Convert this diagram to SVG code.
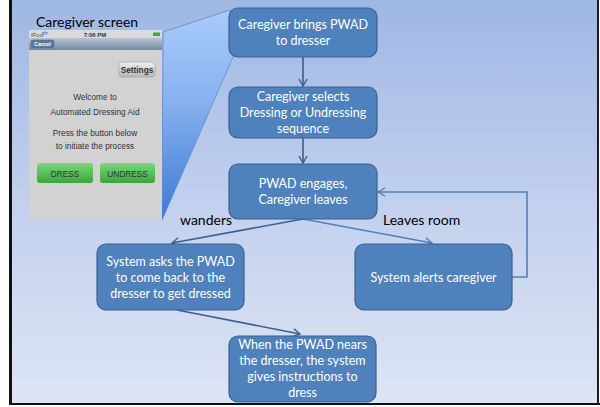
<svg xmlns="http://www.w3.org/2000/svg" width="600" height="407" viewBox="0 0 600 407">
  <defs>
    <linearGradient id="bg" x1="0" y1="0" x2="0" y2="1">
      <stop offset="0" stop-color="#9fb7e4"/>
      <stop offset="0.5" stop-color="#c2d0ee"/>
      <stop offset="1" stop-color="#dde5f4"/>
    </linearGradient>
    <linearGradient id="wedge" x1="0" y1="0" x2="0" y2="1">
      <stop offset="0" stop-color="#a9cbfa"/>
      <stop offset="0.45" stop-color="#86b0f0"/>
      <stop offset="1" stop-color="#3c78d2"/>
    </linearGradient>
    <linearGradient id="nav" x1="0" y1="0" x2="0" y2="1">
      <stop offset="0" stop-color="#b9c4d2"/>
      <stop offset="1" stop-color="#7489a5"/>
    </linearGradient>
    <linearGradient id="green" x1="0" y1="0" x2="0" y2="1">
      <stop offset="0" stop-color="#7ad87a"/>
      <stop offset="1" stop-color="#38a63c"/>
    </linearGradient>
    <linearGradient id="grayBtn" x1="0" y1="0" x2="0" y2="1">
      <stop offset="0" stop-color="#f0f0f0"/>
      <stop offset="1" stop-color="#b8b8b8"/>
    </linearGradient>
    <marker id="arrDark" markerWidth="10" markerHeight="10" refX="8" refY="5" orient="auto" markerUnits="userSpaceOnUse">
      <path d="M1,1 L8,5 L1,9" fill="none" stroke="#3b5f92" stroke-width="1.4"/>
    </marker>
    <marker id="arrLight" markerWidth="10" markerHeight="10" refX="8" refY="5" orient="auto" markerUnits="userSpaceOnUse">
      <path d="M1,1 L8,5 L1,9" fill="none" stroke="#4f81bd" stroke-width="1.4"/>
    </marker>
  </defs>
  <style>
    .box { fill: #4f81bd; stroke: #3a6090; stroke-width: 1.2; }
    .bt { font-family: Lato, "Liberation Sans", sans-serif; font-size: 12.5px; fill: #ffffff; text-anchor: middle; }
    .lbl { font-family: Lato, "Liberation Sans", sans-serif; font-size: 14px; fill: #000000; }
    .dark { fill: none; stroke: #3b5f92; stroke-width: 1.6; }
    .light { fill: none; stroke: #4f81bd; stroke-width: 1.6; }
    .ph { font-family: "Liberation Sans", Arial, sans-serif; fill: #333333; text-anchor: middle; font-size: 8.3px; }
  </style>

  <!-- page frame -->
  <rect x="0" y="0" width="600" height="407" fill="#ffffff"/>
  <rect x="12" y="0" width="585" height="403" fill="url(#bg)"/>
  <rect x="9" y="0" width="3" height="405" fill="#111111"/>
  <rect x="9" y="403" width="591" height="2" fill="#111111"/>
  <rect x="597" y="0" width="2" height="405" fill="#1a1a2a"/>

  <!-- callout wedge from the phone to the first step -->
  <polygon points="163,32 230,10 233,57 162,220" fill="url(#wedge)" stroke="#5b8bd3" stroke-width="0.8"/>

  <!-- caregiver phone screen -->
  <g id="phone">
    <text x="36" y="27" class="lbl" font-size="14.5">Caregiver screen</text>
    <rect x="29" y="30" width="133" height="190" fill="#d2d2d2"/>
    <rect x="29" y="30" width="133" height="8" fill="#dadada"/>
    <text x="31" y="36.5" font-family="Liberation Sans, sans-serif" font-size="6" fill="#555">iPod</text>
    <path d="M42,33 q3,-2 6,0 M43,34.5 q2,-1.3 4,0" stroke="#3a8ae0" stroke-width="0.9" fill="none"/>
    <text x="95" y="36.5" font-family="Liberation Sans, sans-serif" font-size="6" font-weight="bold" fill="#333" text-anchor="middle">7:06 PM</text>
    <rect x="153" y="32.5" width="7" height="3.5" fill="#3ab03a"/>
    <rect x="29" y="38" width="133" height="12" fill="url(#nav)"/>
    <rect x="31" y="40" width="23" height="8" rx="2" fill="#5f7899" stroke="#4a6283" stroke-width="0.5"/>
    <text x="42.5" y="46" font-family="Liberation Sans, sans-serif" font-size="5" fill="#ffffff" text-anchor="middle" font-weight="bold">Cancel</text>
    <rect x="119" y="62" width="36" height="15" rx="3" fill="url(#grayBtn)" stroke="#9a9a9a" stroke-width="0.6"/>
    <text x="137" y="72.5" class="ph" font-size="7.5" font-weight="bold">Settings</text>
    <text x="95" y="100" class="ph">Welcome to</text>
    <text x="95" y="115" class="ph">Automated Dressing Aid</text>
    <text x="95" y="136" class="ph">Press the button below</text>
    <text x="95" y="148.5" class="ph">to initiate the process</text>
    <rect x="37" y="163" width="56" height="20" rx="3" fill="url(#green)"/>
    <text x="65" y="176.5" class="ph" font-size="9.5" fill="#eaffea">DRESS</text>
    <rect x="100" y="163" width="55" height="20" rx="3" fill="url(#green)"/>
    <text x="127.5" y="176.5" class="ph" font-size="9.5" fill="#eaffea">UNDRESS</text>
  </g>

  <!-- connectors -->
  <g id="connectors">
    <line x1="303" y1="57" x2="303" y2="86" class="dark" marker-end="url(#arrDark)"/>
    <line x1="303" y1="138" x2="303" y2="163" class="dark" marker-end="url(#arrDark)"/>
    <line x1="303" y1="219" x2="172" y2="243" class="dark" marker-end="url(#arrDark)"/>
    <line x1="303" y1="219" x2="432" y2="243" class="light" marker-end="url(#arrLight)"/>
    <polyline points="512,277 527,277 527,192 378,192" class="light" marker-end="url(#arrLight)"/>
    <line x1="177" y1="310" x2="300" y2="334" class="dark" marker-end="url(#arrDark)"/>
    <text x="180" y="225" class="lbl">wanders</text>
    <text x="383" y="225" class="lbl">Leaves room</text>
  </g>

  <g id="bring">
    <rect x="229" y="8" width="148" height="49" rx="9" class="box"/>
    <text x="303" y="29" class="bt">Caregiver brings PWAD</text>
    <text x="303" y="45" class="bt">to dresser</text>
  </g>

  <g id="select">
    <rect x="229" y="87" width="148" height="51" rx="9" class="box"/>
    <text x="303" y="101" class="bt">Caregiver selects</text>
    <text x="303" y="117" class="bt">Dressing or Undressing</text>
    <text x="303" y="133" class="bt">sequence</text>
  </g>

  <g id="engage">
    <rect x="229" y="164" width="148" height="55" rx="9" class="box"/>
    <text x="303" y="188" class="bt">PWAD engages,</text>
    <text x="303" y="204" class="bt">Caregiver leaves</text>
  </g>

  <g id="ask">
    <rect x="97" y="244" width="147" height="66" rx="9" class="box"/>
    <text x="170.5" y="266" class="bt">System asks the PWAD</text>
    <text x="170.5" y="282" class="bt">to come back to the</text>
    <text x="170.5" y="298" class="bt">dresser to get dressed</text>
  </g>

  <g id="alert">
    <rect x="355" y="244" width="157" height="66" rx="9" class="box"/>
    <text x="433.5" y="282" class="bt">System alerts caregiver</text>
  </g>

  <g id="instruct">
    <rect x="229" y="336" width="147" height="66" rx="9" class="box"/>
    <text x="302.5" y="349" class="bt">When the PWAD nears</text>
    <text x="302.5" y="365" class="bt">the dresser, the system</text>
    <text x="302.5" y="381" class="bt">gives instructions to</text>
    <text x="302.5" y="397" class="bt">dress</text>
  </g>
</svg>
